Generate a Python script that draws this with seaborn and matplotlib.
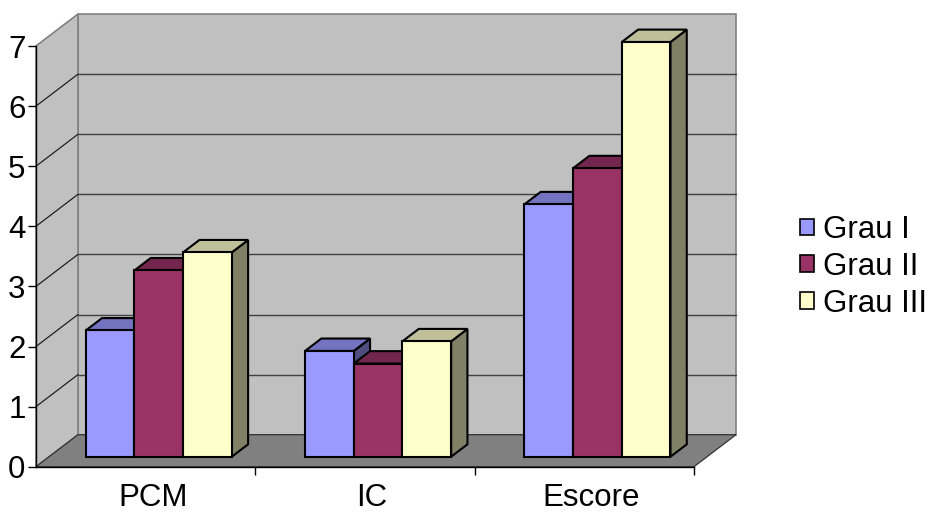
import numpy as np
import pandas as pd
import matplotlib
matplotlib.use("Agg")
import matplotlib.pyplot as plt
import matplotlib.transforms as mtransforms
from matplotlib.patches import Polygon, Rectangle, Patch
from matplotlib.colors import to_rgb
import seaborn as sns

# ---------------- data ----------------
categories = ["PCM", "IC", "Escore"]
series = ["Grau I", "Grau II", "Grau III"]
grau_1 = [2.1, 1.76, 4.2]
grau_2 = [3.1, 1.55, 4.8]
grau_3 = [3.4, 1.92, 6.9]
y_ticks = [0, 1, 2, 3, 4, 5, 6, 7]

front_colors = ["#9999FF", "#993366", "#FFFFCC"]

# ---------------- style ----------------
sns.set_style("white")
plt.rcParams["font.family"] = ["Liberation Sans", "DejaVu Sans"]
plt.rcParams["text.color"] = "black"

W, H = 931, 513
fig = plt.figure(figsize=(W / 100, H / 100), dpi=100)
fig.patch.set_facecolor("white")

# front plane of the 3-D box, in pixels
L, R, B, T = 36, 694, 466.7, 46
ax = fig.add_axes([L / W, 1 - B / H, (R - L) / W, (B - T) / H])
ax.set_facecolor("none")

DX = 42 / ((R - L) / 3.0)   # depth offset in data units (x)
DY = 32 / ((B - T) / 7.0)   # depth offset in data units (y)
F0, F1 = 0.3125, 0.70       # bars occupy this depth range

df = pd.DataFrame({
    "cat": categories * 3,
    "grau": np.repeat(series, 3),
    "val": grau_1 + grau_2 + grau_3,
})

sns.barplot(data=df, x="cat", y="val", hue="grau", palette=front_colors,
            saturation=1, width=0.666, edgecolor="black", linewidth=1.5,
            legend=False, ax=ax, zorder=4)

ax.set_xlim(-0.5, 2.5)
ax.set_ylim(0, 7)
ax.set_xlabel("")
ax.set_ylabel("")

# ---------------- walls and floor ----------------
wall_kw = dict(clip_on=False)
ax.add_patch(Rectangle((-0.5 + DX, DY), 3, 7, facecolor="#C0C0C0",
                       edgecolor="#808080", lw=1.2, zorder=0.2, **wall_kw))
ax.add_patch(Polygon([(-0.5, 0), (-0.5, 7), (-0.5 + DX, 7 + DY), (-0.5 + DX, DY)],
                     closed=True, facecolor="#C0C0C0", edgecolor="#808080",
                     lw=1.2, zorder=0.2, **wall_kw))
ax.add_patch(Polygon([(-0.5, 0), (2.5, 0), (2.5 + DX, DY), (-0.5 + DX, DY)],
                     closed=True, facecolor="#808080", edgecolor="#333333",
                     lw=0.9, zorder=0.3, **wall_kw))
for y in y_ticks[1:-1]:
    ax.plot([-0.5 + DX, 2.5 + DX], [y + DY, y + DY], color="#404040",
            lw=1.0, zorder=0.5, clip_on=False)
    ax.plot([-0.5, -0.5 + DX], [y, y + DY], color="#202020",
            lw=0.9, zorder=0.5, clip_on=False)

# ---------------- 3-D bar faces ----------------
shift = mtransforms.Affine2D().translate(F0 * DX, F0 * DY)
ddx, ddy = (F1 - F0) * DX, (F1 - F0) * DY
for ci, container in enumerate(ax.containers):
    base = np.array(to_rgb(front_colors[ci]))
    top_c = base * 0.75
    side_c = base * 0.5
    for bar in container:
        bar.set_transform(shift + ax.transData)
        bar.set_clip_on(False)
        bar.set_joinstyle("miter")
        x0 = bar.get_x() + F0 * DX
        x1 = x0 + bar.get_width()
        y0 = F0 * DY
        y1 = y0 + bar.get_height()
        ax.add_patch(Polygon([(x1, y0), (x1, y1), (x1 + ddx, y1 + ddy), (x1 + ddx, y0 + ddy)],
                             closed=True, facecolor=side_c, edgecolor="black",
                             lw=1.5, zorder=3, clip_on=False, joinstyle="miter"))
        ax.add_patch(Polygon([(x0, y1), (x1, y1), (x1 + ddx, y1 + ddy), (x0 + ddx, y1 + ddy)],
                             closed=True, facecolor=top_c, edgecolor="black",
                             lw=1.5, zorder=3.5, clip_on=False, joinstyle="miter"))

# ---------------- axes ----------------
for s in ["top", "right"]:
    ax.spines[s].set_visible(False)
for s in ["left", "bottom"]:
    ax.spines[s].set_color("black")
    ax.spines[s].set_linewidth(1.0)
    ax.spines[s].set_zorder(2)

FS = 22.5
ax.set_yticks(y_ticks)
ax.set_yticklabels([str(v) for v in y_ticks])
ax.tick_params(axis="y", left=True, length=6, width=1, color="black",
               labelsize=FS, labelcolor="black", pad=1.5, direction="out")
ax.set_xticks(range(len(categories)))
ax.set_xticklabels(categories)
ax.set_xticks([0.5, 1.5, 2.5], minor=True)
ax.tick_params(axis="x", which="major", bottom=False, length=0,
               labelsize=FS, labelcolor="black", pad=12)
ax.tick_params(axis="x", which="minor", bottom=True, length=6, width=1,
               color="black", direction="out")
lab_shift = mtransforms.ScaledTranslation(7 / 100, 0, fig.dpi_scale_trans)
for lab in ax.get_xticklabels():
    lab.set_transform(lab.get_transform() + lab_shift)

# ---------------- legend ----------------
handles = [Patch(facecolor=c, edgecolor="black", lw=1.2) for c in front_colors]
fig.legend(handles, series, loc="center left",
           bbox_to_anchor=(800 / W, 1 - 267 / H), frameon=False,
           fontsize=FS, handlelength=0.45, handleheight=0.45,
           handletextpad=0.28, labelspacing=0.22, borderpad=0,
           borderaxespad=0)

fig.savefig("out.png", dpi=100, facecolor="white")
